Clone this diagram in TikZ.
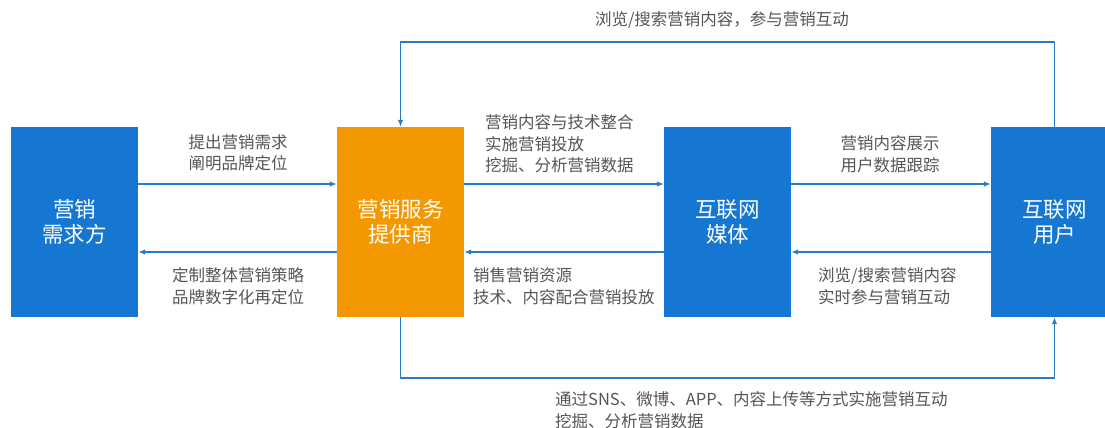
\documentclass[tikz,border=0pt]{standalone}
\usepackage{fontspec}
\newfontfamily\cjk{Noto Sans CJK SC}
\usetikzlibrary{arrows.meta,calc}
\definecolor{boxblue}{HTML}{1677D2}
\definecolor{boxorange}{HTML}{F39800}
\definecolor{lineblue}{HTML}{2B7BC2}
\definecolor{labelgray}{HTML}{555555}
\tikzset{
	party/.style={fill=boxblue, minimum width=127pt, minimum height=190pt, inner sep=0pt,
		text=white, align=center, font=\cjk\fontsize{21.5}{25}\selectfont},
	flow/.style={->, draw=lineblue, line width=1.3pt},
	lbl/.style={text=labelgray, inner sep=0pt, font=\cjk\fontsize{16.5}{21.5}\selectfont}
}
\begin{document}
\begin{tikzpicture}[x=1pt,y=-1pt,>={Latex[length=7pt,width=5.5pt]}, line join=round]
		\clip (0,0) rectangle (1105,428);
		\def\rowA{184} \def\rowB{252} % Höhe der Pfeile
		\def\loopT{42} \def\loopB{378}
		% Kästen
		\node[party] (demand) at (74.5,222) {营销\\需求方};
		\node[party, fill=boxorange] (provider) at (400.5,222) {营销服务\\提供商};
		\node[party] (media) at (727.5,222) {互联网\\媒体};
		\node[party] (user) at (1054.5,222) {互联网\\用户};
		\coordinate (ra) at (0,\rowA); \coordinate (rb) at (0,\rowB);
		\coordinate (lt) at (0,\loopT); \coordinate (lb) at (0,\loopB);
		% Pfeile
		\draw[flow] (demand.east |- ra) -- (provider.west |- ra);
		\draw[flow] (provider.west |- rb) -- (demand.east |- rb);
		\draw[flow] (provider.east |- ra) -- (media.west |- ra);
		\draw[flow] (media.west |- rb) -- (provider.east |- rb);
		\draw[flow] (media.east |- ra) -- (user.west |- ra);
		\draw[flow] (user.west |- rb) -- (media.east |- rb);
		\draw[flow] (user.north) -- (user.north |- lt) -- (provider.north |- lt) -- (provider.north);
		\draw[flow] (provider.south) -- (provider.south |- lb) -- (user.south |- lb) -- (user.south);
		% Beschriftungen
		\node[lbl, align=center] (l1) at (238,153) {提出营销需求\\阐明品牌定位};
		\node[lbl, align=center] (l2) at (238,286) {定制整体营销策略\\品牌数字化再定位};
		\node[lbl, align=left, anchor=west] (l3) at (485,144) {营销内容与技术整合\\实施营销投放\\挖掘、分析营销数据};
		\node[lbl, align=left, anchor=west] (l4) at (473,286) {销售营销资源\\技术、内容配合营销投放};
		\node[lbl, align=center] (l5) at (890,154) {营销内容展示\\用户数据跟踪};
		\node[lbl, align=left, anchor=west] (l6) at (818,286) {浏览/搜索营销内容\\实时参与营销互动};
		\node[lbl] (l7) at (722,20) {浏览/搜索营销内容，参与营销互动};
		\node[lbl, align=left, anchor=west] (l8) at (555,410) {通过SNS、微博、APP、内容上传等方式实施营销互动\\挖掘、分析营销数据};
\end{tikzpicture}
\end{document}
